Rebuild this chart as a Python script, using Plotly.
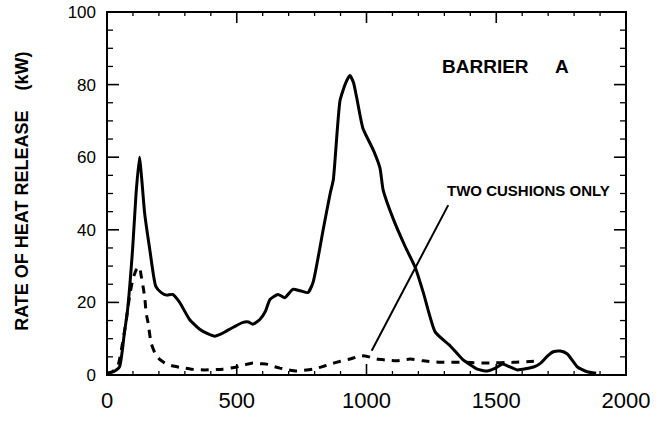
import numpy as np
import plotly.graph_objects as go

# Barrier A (full assembly) – time (s) vs rate of heat release (kW)
barrier_time = [0, 25, 48, 67, 79, 99, 112, 125, 135, 145, 164, 188, 209, 230, 253, 280, 318, 357,
                390, 415, 440, 460, 490, 524, 545, 562, 589, 610, 628, 659, 685, 716, 745, 774, 794,
                833, 860, 872, 898, 920, 936, 950, 962, 986, 1026, 1052, 1064, 1103, 1149, 1188,
                1219, 1265, 1323, 1369, 1427, 1465, 1495, 1524, 1550, 1581, 1644, 1670, 1697,
                1720, 1747, 1774, 1813, 1850, 1885]
barrier_hrr = [0.5, 0.9, 2.2, 11.6, 17.8, 35, 50, 60, 53, 44.6, 35, 24.4, 22.7, 22.0, 22.2, 20, 15.3,
               12.6, 11.3, 10.7, 11.3, 12.1, 13.3, 14.5, 14.6, 14.0, 15.3, 17.5, 20.8, 22.2, 21.3,
               23.6, 23.2, 22.7, 25.5, 40, 50, 53.7, 75.6, 80.5, 82.5, 80.5, 76.5, 68, 62, 57,
               51, 43, 35.4, 29.6, 22.7, 11.8, 8, 4.4, 1.6, 1.1, 1.8, 3, 2.3, 1.4, 2.2, 3.2, 5.2,
               6.4, 6.6, 5.8, 2.2, 0.9, 0.5]

# Two cushions only
cushion_time = [0, 20, 41, 55, 74, 87, 100, 113, 125, 132, 145, 151, 158, 170, 185, 203, 230, 260,
                290, 325, 376, 420, 446, 499, 530, 562, 590, 615, 640, 666, 700, 730, 760, 794,
                830, 859, 900, 936, 981, 1010, 1039, 1080, 1116, 1168, 1219, 1284, 1374, 1465,
                1568, 1645]
cushion_hrr = [0.5, 0.9, 2.3, 6.8, 15, 21.7, 26.5, 29, 29.8, 27.2, 21.7, 17, 14.5, 8.8, 6.0, 4.3,
               3.0, 2.4, 2.0, 1.6, 1.4, 1.5, 1.6, 2.2, 2.8, 3.3, 3.1, 3.0, 2.4, 1.9, 1.4, 1.1,
               1.3, 1.6, 2.3, 3.0, 3.8, 4.4, 5.3, 5.0, 4.4, 4.1, 3.9, 4.4, 3.9, 3.5, 3.5, 3.3,
               3.5, 3.8]

x_range = [0, 2000]
y_range = [0, 100]
x_major, x_minor = 500, 100
y_major, y_minor = 20, 5

FONT = "Liberation Sans, Arial, sans-serif"
TICK_COLOR = "black"

fig = go.Figure()
fig.add_trace(go.Scatter(x=barrier_time, y=barrier_hrr, mode="lines",
                         line=dict(color="black", width=3, shape="spline", smoothing=0.5),
                         showlegend=False, name="Barrier A"))
fig.add_trace(go.Scatter(x=cushion_time, y=cushion_hrr, mode="lines",
                         line=dict(color="black", width=3, dash="8px,7px", shape="spline", smoothing=0.5),
                         showlegend=False, name="Two cushions only"))

# frame
fig.add_shape(type="rect", xref="paper", yref="paper", x0=0, y0=0, x1=1, y1=1,
              line=dict(color=TICK_COLOR, width=2), layer="above")

# inward tick marks on all four sides, placed from the axis tick steps
def xtick(v, length, width):
    for anchor, sign in ((y_range[0], 1), (y_range[1], -1)):
        fig.add_shape(type="line", xref="x", yref="y", ysizemode="pixel", yanchor=anchor,
                      x0=v, x1=v, y0=0, y1=sign * length,
                      line=dict(color=TICK_COLOR, width=width), layer="above")

def ytick(v, length, width):
    for anchor, sign in ((x_range[0], 1), (x_range[1], -1)):
        fig.add_shape(type="line", xref="x", yref="y", xsizemode="pixel", xanchor=anchor,
                      y0=v, y1=v, x0=0, x1=sign * length,
                      line=dict(color=TICK_COLOR, width=width), layer="above")

for v in np.arange(x_range[0], x_range[1] + 1, x_minor):
    if v % x_major == 0:
        xtick(v, 11, 1.6)
    else:
        xtick(v, 4, 1.3)
for v in np.arange(y_range[0], y_range[1] + 0.1, y_minor):
    if v % y_major == 0:
        ytick(v, 12, 1.6)
    else:
        ytick(v, 6, 1.3)

# pointer line from label to dashed curve
fig.add_shape(type="line", xref="x", yref="y", x0=1020, y0=6.7, x1=1315, y1=46.8,
              line=dict(color="black", width=2))

fig.add_annotation(x=1945, y=50.7, xref="x", yref="y", text="TWO CUSHIONS ONLY",
                   showarrow=False, xanchor="right", yanchor="middle",
                   font=dict(family=FONT, size=15, color="black", weight="bold"))
fig.add_annotation(x=1282, y=85.1, xref="x", yref="y",
                   text="BARRIER\u00a0\u00a0\u00a0\u00a0\u00a0A",
                   showarrow=False, xanchor="left", yanchor="middle",
                   font=dict(family=FONT, size=19, color="black", weight="bold"))
# y axis title
fig.add_annotation(x=-0.164, y=0.507, xref="paper", yref="paper",
                   text="RATE OF HEAT RELEASE\u00a0\u00a0\u00a0\u00a0(kW)", textangle=-90,
                   showarrow=False, xanchor="center", yanchor="middle",
                   font=dict(family=FONT, size=18, color="black", weight="bold"))

fig.update_layout(
    width=659, height=424,
    margin=dict(l=107, r=33, t=12, b=49, autoexpand=False),
    paper_bgcolor="white", plot_bgcolor="white",
    font=dict(family=FONT, color="black"),
    xaxis=dict(range=x_range, tickmode="linear", tick0=0, dtick=x_major, automargin=False,
               showgrid=False, zeroline=False, showline=False,
               ticks="inside", ticklen=1, tickcolor="rgba(0,0,0,0)",
               tickfont=dict(size=22, color="black"), ticklabelstandoff=10),
    yaxis=dict(range=y_range, tickmode="linear", tick0=0, dtick=y_major, automargin=False,
               showgrid=False, zeroline=False, showline=False,
               ticks="inside", ticklen=1, tickcolor="rgba(0,0,0,0)",
               tickfont=dict(size=17, color="black"), ticklabelstandoff=10),
)

fig.write_html("out.html")
